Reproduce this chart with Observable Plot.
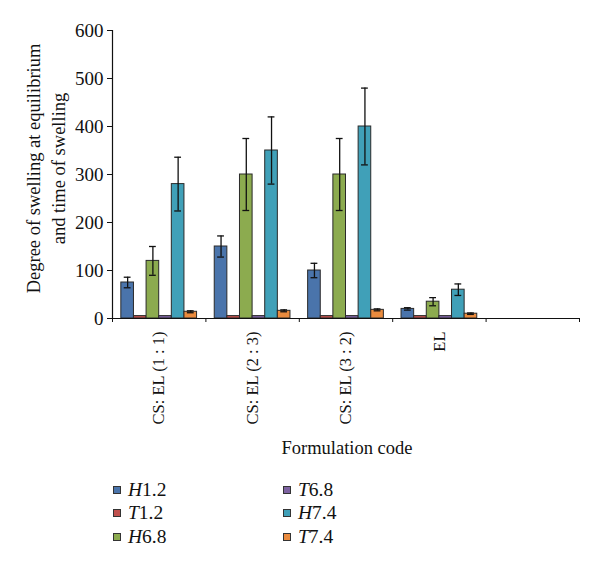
<!DOCTYPE html>
<html>
<head>
<meta charset="utf-8">
<script src="https://cdn.jsdelivr.net/npm/d3@7"></script>
<script src="https://cdn.jsdelivr.net/npm/@observablehq/plot@0.6"></script>
<style>
  html, body { margin: 0; padding: 0; background: #fff; }
  #chart svg { display: block; }
  .legend {
    font-family: "Liberation Serif", "Times New Roman", serif;
    font-size: 19.5px;
    color: #111;
    display: grid;
    grid-template-columns: 170px 170px;
    grid-template-rows: repeat(3, 23.5px);
    grid-auto-flow: column;
    padding-left: 113px;
    padding-top: 13px;
  }
  .legend .item { display: flex; align-items: center; }
  .legend .sw { width: 6px; height: 6px; border: 1px solid #333; margin-right: 7px; }
  .legend i { font-style: italic; }
</style>
</head>
<body>
<div id="chart"></div>
<script>
// ---- data ----
const categories = ["CS: EL (1 : 1)", "CS: EL (2 : 3)", "CS: EL (3 : 2)", "EL", ""];
const series = ["H1.2", "T1.2", "H6.8", "T6.8", "H7.4", "T7.4"];
const colors = ["#4a74ab", "#c0504d", "#8cab4f", "#7d62a1", "#40a0b8", "#ea8b3e"];

const valH12 = [75, 150, 100, 20];
const valT12 = [5, 5, 5, 5];
const valH68 = [120, 300, 300, 35];
const valT68 = [5, 5, 5, 5];
const valH74 = [280, 350, 400, 60];
const valT74 = [14, 16, 18, 10];

const errH12 = [11, 22, 15, 2.5];
const errT12 = [0, 0, 0, 0];
const errH68 = [30, 75, 75, 8.5];
const errT68 = [0, 0, 0, 0];
const errH74 = [56, 70, 80, 12];
const errT74 = [2, 2, 2, 1.5];

const yTicks = [0, 100, 200, 300, 400, 500, 600];
const yTitle = "Degree of swelling at equilibrium\nand time of swelling";
const xTitle = "Formulation code";

// ---- build table ----
const values = [valH12, valT12, valH68, valT68, valH74, valT74];
const errors = [errH12, errT12, errH68, errT68, errH74, errT74];
const inner = d3.scaleBand().domain(series).range([0, 1]).paddingInner(0).paddingOuter(0.7);
const bw = inner.bandwidth();
const rows = [];
series.forEach((s, j) => {
  values[j].forEach((v, i) => {
    const x1 = i + inner(s);
    rows.push({series: s, cat: categories[i], value: v, err: errors[j][i],
               x1, x2: x1 + bw, xc: x1 + bw / 2});
  });
});
const withErr = rows.filter(d => d.err > 0);
const cap = bw * 0.27;

const plot = Plot.plot({
  width: 600,
  height: 465,
  marginLeft: 112,
  marginRight: 21,
  marginTop: 30,
  marginBottom: 147,
  style: {fontFamily: "Liberation Serif, Times New Roman, serif", fontSize: "19px", background: "#fff", color: "#111"},
  x: {domain: [0, categories.length], ticks: d3.range(categories.length + 1), tickFormat: () => "", tickSize: 4, label: null},
  y: {domain: [0, 600], ticks: yTicks, tickSize: 5, tickPadding: 4, label: null},
  color: {domain: series, range: colors},
  marks: [
    Plot.rectY(rows, {x1: "x1", x2: "x2", y1: 0, y2: "value", fill: "series", stroke: "#2a2a2a", strokeWidth: 1}),
    Plot.ruleX(withErr, {x: "xc", y1: d => d.value - d.err, y2: d => d.value + d.err, stroke: "#111", strokeWidth: 1.3}),
    Plot.ruleY(withErr, {y: d => d.value + d.err, x1: d => d.xc - cap, x2: d => d.xc + cap, stroke: "#111", strokeWidth: 1.3}),
    Plot.ruleY(withErr, {y: d => d.value - d.err, x1: d => d.xc - cap, x2: d => d.xc + cap, stroke: "#111", strokeWidth: 1.3}),
    Plot.ruleY([0], {stroke: "#111", strokeWidth: 1.2}),
    Plot.ruleX([0], {stroke: "#111", strokeWidth: 1.2}),
    Plot.text(categories, {x: (d, i) => i + 0.5, frameAnchor: "bottom", rotate: -90, textAnchor: "end",
      lineAnchor: "middle", dy: 13, fontSize: 16.5, fill: "#111"}),
    Plot.text([xTitle], {frameAnchor: "bottom", dy: 130, dx: 1, fontSize: 18.5, lineAnchor: "middle", fill: "#111"}),
    Plot.text([yTitle], {frameAnchor: "left", dx: -68, dy: -6, rotate: -90, textAnchor: "middle",
      lineAnchor: "middle", lineHeight: 1.38, fontSize: 18.5, fill: "#111"})
  ]
});
document.getElementById("chart").appendChild(plot);

// ---- legend ----
const legend = document.createElement("div");
legend.className = "legend";
series.forEach((s, j) => {
  const item = document.createElement("div");
  item.className = "item";
  const sw = document.createElement("span");
  sw.className = "sw";
  sw.style.background = colors[j];
  const label = document.createElement("span");
  const it = document.createElement("i");
  it.textContent = s[0];
  label.appendChild(it);
  label.appendChild(document.createTextNode(s.slice(1)));
  item.appendChild(sw);
  item.appendChild(label);
  legend.appendChild(item);
});
document.getElementById("chart").appendChild(legend);
</script>
</body>
</html>
